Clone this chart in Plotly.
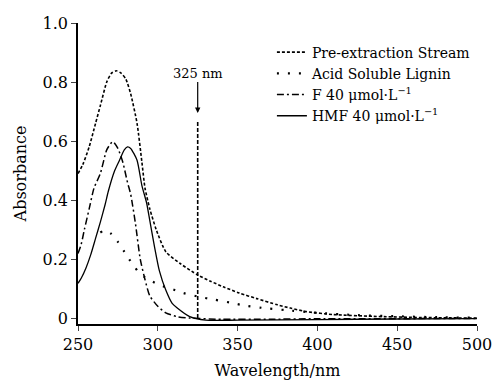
import plotly.graph_objects as go

# ---- data ----
wl_pre = [250, 253, 257, 261, 264, 268, 271, 274, 277, 280, 283, 287, 290, 292, 295, 299, 305, 314, 325, 333, 341, 351, 362, 375, 383, 393, 410, 435, 465, 500]
abs_pre = [0.49, 0.52, 0.58, 0.66, 0.72, 0.80, 0.83, 0.838, 0.83, 0.81, 0.76, 0.66, 0.53, 0.44, 0.37, 0.30, 0.225, 0.185, 0.146, 0.125, 0.106, 0.085, 0.066, 0.045, 0.034, 0.022, 0.012, 0.006, 0.002, 0.0]

wl_asl = [264, 267, 271, 275, 279, 282, 285, 288, 292, 297, 302, 308, 316, 326, 335, 345, 355, 365, 380, 400, 425, 450, 475, 500]
abs_asl = [0.29, 0.298, 0.285, 0.258, 0.225, 0.2, 0.178, 0.155, 0.138, 0.123, 0.11, 0.1, 0.085, 0.072, 0.063, 0.053, 0.042, 0.035, 0.027, 0.018, 0.01, 0.006, 0.003, 0.001]

wl_f = [250, 252, 254, 257, 260, 264, 268, 271, 272, 275, 278, 281, 283, 286, 289, 292, 295, 300, 305, 312, 320, 340, 370, 400, 450, 500]
abs_f = [0.219, 0.25, 0.30, 0.37, 0.44, 0.49, 0.57, 0.595, 0.598, 0.575, 0.53, 0.46, 0.42, 0.32, 0.2, 0.13, 0.075, 0.04, 0.018, 0.005, 0.0, -0.004, -0.004, -0.002, -0.002, -0.001]

wl_hmf = [250, 252, 255, 258, 261, 264, 267, 269, 273, 276, 279, 281, 283, 287, 290, 293, 295, 298, 301, 305, 309, 312, 320, 330, 350, 400, 450, 500]
abs_hmf = [0.118, 0.135, 0.17, 0.215, 0.27, 0.325, 0.385, 0.43, 0.50, 0.535, 0.57, 0.58, 0.575, 0.535, 0.45, 0.39, 0.33, 0.24, 0.16, 0.095, 0.05, 0.035, 0.005, -0.007, -0.007, -0.005, -0.003, -0.002]

names = ["Pre-extraction Stream", "Acid Soluble Lignin",
         "F 40 μmol·L<sup>−1</sup>", "HMF 40 μmol·L<sup>−1</sup>"]

x_ticks = [250, 300, 350, 400, 450, 500]
y_ticks = [0, 0.2, 0.4, 0.6, 0.8, 1.0]
y_tick_text = ["0", "0.2", "0.4", "0.6", "0.8", "1.0"]

marker_wl = 325
marker_label = "325 nm"
marker_line_top = 0.67
arrow_tail = 0.805
arrow_head = 0.695
label_y = 0.83

FONT = "DejaVu Serif"

fig = go.Figure()
fig.add_trace(go.Scatter(x=wl_pre, y=abs_pre, mode="lines", name=names[0],
                         line=dict(color="black", width=1.6, dash="3px,2px", shape="spline", smoothing=0.6)))
fig.add_trace(go.Scatter(x=wl_asl, y=abs_asl, mode="lines", name=names[1],
                         line=dict(color="black", width=2.2, dash="2px,9px", shape="spline", smoothing=0.6)))
fig.add_trace(go.Scatter(x=wl_f, y=abs_f, mode="lines", name=names[2],
                         line=dict(color="black", width=1.5, dash="7px,3px,2px,3px", shape="spline", smoothing=0.6)))
fig.add_trace(go.Scatter(x=wl_hmf, y=abs_hmf, mode="lines", name=names[3],
                         line=dict(color="black", width=1.3, shape="spline", smoothing=0.6)))

# vertical marker line
fig.add_trace(go.Scatter(x=[marker_wl, marker_wl], y=[0, marker_line_top], mode="lines",
                         showlegend=False, hoverinfo="skip",
                         line=dict(color="black", width=1.6, dash="4px,2px")))

fig.add_annotation(x=marker_wl, y=arrow_head, ax=marker_wl, ay=arrow_tail,
                   xref="x", yref="y", axref="x", ayref="y", text="",
                   showarrow=True, arrowhead=2, arrowsize=0.9, arrowwidth=1.2, arrowcolor="black")
fig.add_annotation(x=marker_wl, y=label_y, xref="x", yref="y", text=marker_label,
                   showarrow=False, font=dict(family=FONT, size=13, color="black"))

fig.update_layout(
    width=493, height=382,
    margin=dict(l=78, r=16, t=23, b=58),
    paper_bgcolor="white", plot_bgcolor="white",
    font=dict(family=FONT, color="black"),
    showlegend=True,
    legend=dict(x=0.486, y=0.955, xanchor="left", yanchor="top",
                bgcolor="rgba(0,0,0,0)", font=dict(family=FONT, size=14),
                tracegroupgap=0, itemwidth=30),
    xaxis=dict(range=[250, 500], tickvals=x_ticks, ticks="outside", ticklen=5,
               tickwidth=1.2, showline=True, linecolor="black", linewidth=1.5,
               showgrid=False, zeroline=False, tickfont=dict(size=16), automargin=False,
               title=dict(text="Wavelength/nm", font=dict(size=16), standoff=12)),
    yaxis=dict(range=[-0.02, 1.0], tickvals=y_ticks, ticktext=y_tick_text,
               ticks="outside", ticklen=5, tickwidth=1.2, showline=True,
               linecolor="black", linewidth=1.5, showgrid=False, zeroline=False,
               tickfont=dict(size=16), automargin=False,
               title=dict(text="Absorbance", font=dict(size=16), standoff=12)),
)

fig.write_html("out.html", config={"displayModeBar": False},
               post_script="document.body.style.margin='0';")
